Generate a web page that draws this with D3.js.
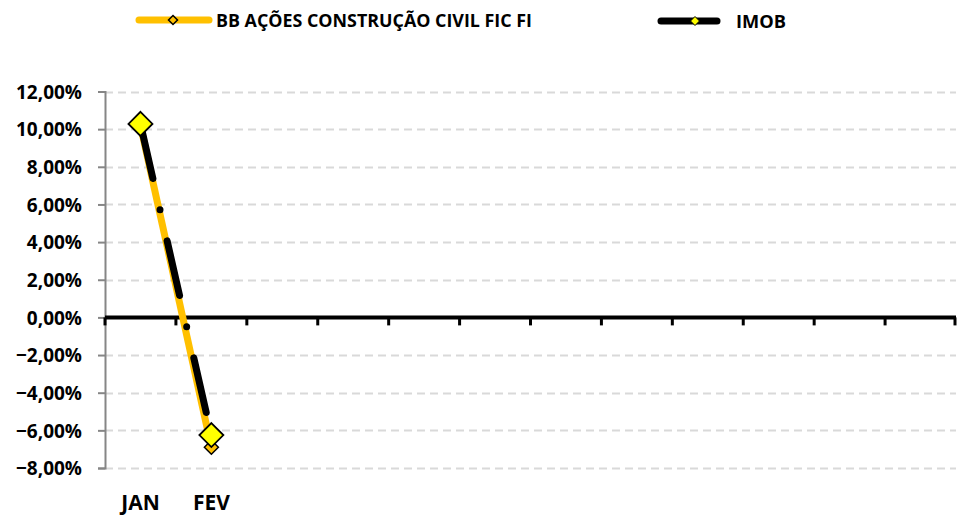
<!DOCTYPE html>
<html>
<head>
<meta charset="utf-8">
<script src="https://cdn.jsdelivr.net/npm/d3@7"></script>
<style>
  body { margin: 0; background: #fff; }
  text { font-family: "Open Sans", "Noto Sans", sans-serif; font-weight: 700; fill: #000; }
</style>
</head>
<body>
<div id="chart"></div>
<script>
// Months on the x axis (only the first two are labelled in the original)
const months = ['JAN', 'FEV', 'MAR', 'ABR', 'MAI', 'JUN', 'JUL', 'AGO', 'SET', 'OUT', 'NOV', 'DEZ'];
const monthLabels = ['JAN', 'FEV'];

// Monthly returns, in percent
const bbValues = [10.2, -6.9];
const imobValues = [10.28, -6.25];

const yTicks = [-8, -6, -4, -2, 0, 2, 4, 6, 8, 10, 12];

const seriesNames = ['BB AÇÕES CONSTRUÇÃO CIVIL FIC FI', 'IMOB'];

const width = 957, height = 515;
const plot = { left: 105, right: 956, top: 91.5, bottom: 468 };

const svg = d3.select('#chart')
  .append('svg')
  .attr('width', width)
  .attr('height', height);

const x = d3.scaleBand()
  .domain(months)
  .range([plot.left, plot.right]);

const y = d3.scaleLinear()
  .domain([-8, 12])
  .range([plot.bottom, plot.top]);

const fmt = v => d3.format('.2f')(v).replace('.', ',') + '%';

// Dashed gridlines
svg.append('g')
  .selectAll('line')
  .data(yTicks.filter(d => d !== 0))
  .enter()
  .append('line')
  .attr('x1', plot.left)
  .attr('x2', plot.right)
  .attr('y1', d => Math.round(y(d)) + 0.5)
  .attr('y2', d => Math.round(y(d)) + 0.5)
  .attr('stroke', '#d9d9d9')
  .attr('stroke-width', 2)
  .attr('stroke-dasharray', '8 5');

// Y axis, gray line with small ticks on the left
const yAxis = svg.append('g')
  .attr('transform', 'translate(' + plot.left + ',0)')
  .call(d3.axisLeft(y).tickValues(yTicks).tickFormat(fmt).tickSize(7).tickPadding(16));
yAxis.attr('font-family', null).attr('font-size', null);
yAxis.select('.domain').attr('stroke', '#868686').attr('stroke-width', 2);
yAxis.selectAll('.tick line').attr('stroke', '#868686').attr('stroke-width', 2);
yAxis.selectAll('.tick text')
  .attr('dy', '0.35em')
  .style('font-size', '19px')
  .style('font-family', '"Open Sans", sans-serif')
  .style('font-weight', 700);

// Zero line with tick marks at the category boundaries
const y0 = y(0);
svg.append('line')
  .attr('x1', plot.left)
  .attr('x2', plot.right)
  .attr('y1', y0)
  .attr('y2', y0)
  .attr('stroke', '#000')
  .attr('stroke-width', 4);

svg.append('g')
  .selectAll('line')
  .data(months.map(m => x(m)).concat([plot.right - 1]))
  .enter()
  .append('line')
  .attr('x1', d => d)
  .attr('x2', d => d)
  .attr('y1', y0)
  .attr('y2', y0 + 8)
  .attr('stroke', '#000')
  .attr('stroke-width', 3);

// Category labels
svg.append('g')
  .selectAll('text')
  .data(monthLabels)
  .enter()
  .append('text')
  .attr('x', d => x(d) + x.bandwidth() / 2)
  .attr('y', 510)
  .attr('text-anchor', 'middle')
  .style('font-size', '21px')
  .text(d => d);

const line = d3.line()
  .x((d, i) => x(months[i]) + x.bandwidth() / 2)
  .y(d => y(d));

const diamond = r => 'M0,' + (-r) + 'L' + r + ',0L0,' + r + 'L' + (-r) + ',0Z';

// BB series: thick orange line, small orange diamonds
svg.append('path')
  .datum(bbValues)
  .attr('d', line)
  .attr('fill', 'none')
  .attr('stroke', '#ffc000')
  .attr('stroke-width', 7);

svg.append('g')
  .selectAll('path')
  .data(bbValues)
  .enter()
  .append('path')
  .attr('transform', (d, i) => 'translate(' + (x(months[i]) + x.bandwidth() / 2) + ',' + y(d) + ')')
  .attr('d', diamond(7))
  .attr('fill', '#ffc000')
  .attr('stroke', '#000')
  .attr('stroke-width', 1.5);

// IMOB series: black long-dash-dot line, big yellow diamonds
svg.append('path')
  .datum(imobValues)
  .attr('d', line)
  .attr('fill', 'none')
  .attr('stroke', '#000')
  .attr('stroke-width', 7)
  .attr('stroke-linecap', 'round')
  .attr('stroke-dasharray', '56 32 0 32');

svg.append('g')
  .selectAll('path')
  .data(imobValues)
  .enter()
  .append('path')
  .attr('transform', (d, i) => 'translate(' + (x(months[i]) + x.bandwidth() / 2) + ',' + y(d) + ')')
  .attr('d', diamond(12))
  .attr('fill', '#ffff00')
  .attr('stroke', '#000')
  .attr('stroke-width', 1.8);

// Legend
const legend = svg.append('g');

legend.append('line')
  .attr('x1', 139).attr('x2', 209)
  .attr('y1', 20).attr('y2', 20)
  .attr('stroke', '#ffc000')
  .attr('stroke-width', 7)
  .attr('stroke-linecap', 'round');
legend.append('path')
  .attr('transform', 'translate(173,20)')
  .attr('d', diamond(4.5))
  .attr('fill', '#ffc000')
  .attr('stroke', '#000')
  .attr('stroke-width', 1.5);
legend.append('text')
  .attr('x', 216).attr('y', 26.5)
  .attr('textLength', 316)
  .attr('lengthAdjust', 'spacingAndGlyphs')
  .style('font-size', '17.5px')
  .text(seriesNames[0]);

legend.append('line')
  .attr('x1', 661).attr('x2', 717)
  .attr('y1', 21).attr('y2', 21)
  .attr('stroke', '#000')
  .attr('stroke-width', 7)
  .attr('stroke-linecap', 'round');
legend.append('path')
  .attr('transform', 'translate(695,21)')
  .attr('d', diamond(4.5))
  .attr('fill', '#ffff00')
  .attr('stroke', '#000')
  .attr('stroke-width', 1);
legend.append('text')
  .attr('x', 736).attr('y', 27.5)
  .attr('textLength', 50)
  .attr('lengthAdjust', 'spacingAndGlyphs')
  .style('font-size', '17.5px')
  .text(seriesNames[1]);
</script>
</body>
</html>
